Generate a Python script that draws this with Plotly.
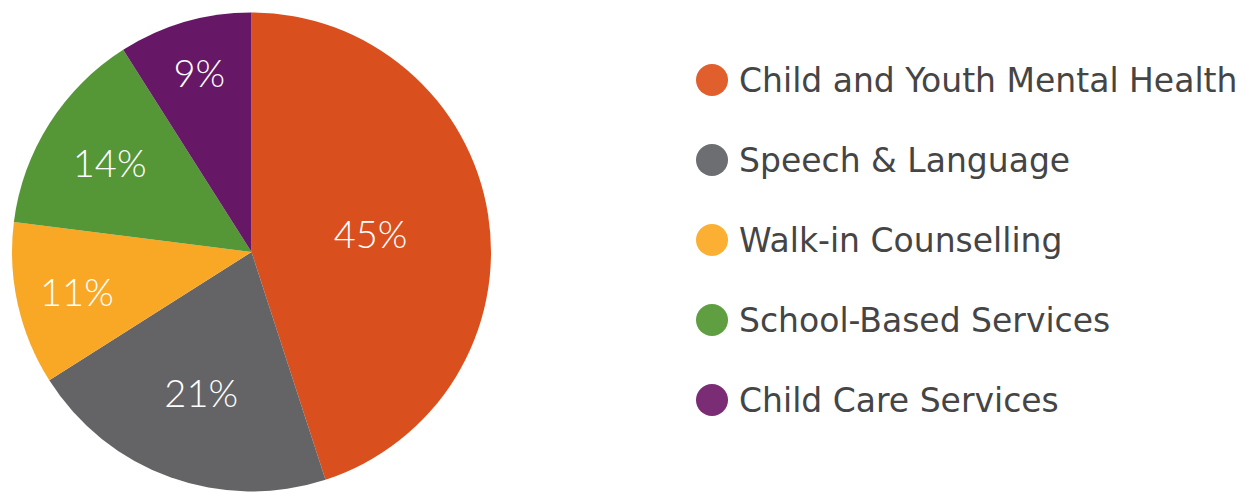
import plotly.graph_objects as go

# Share of clients by program
programs = [
    "Child and Youth Mental Health",
    "Speech & Language",
    "Walk-in Counselling",
    "School-Based Services",
    "Child Care Services",
]
shares = [45, 21, 11, 14, 9]

slice_colors = ["#D9501E", "#646466", "#F9A825", "#559637", "#661866"]
key_colors = ["#E05F2C", "#6D6E71", "#FBB034", "#5F9F41", "#7A2D74"]

W, H = 1247, 492

fig = go.Figure()

fig.add_trace(go.Pie(
    labels=programs,
    values=shares,
    sort=False,
    direction="clockwise",
    rotation=0,
    marker=dict(colors=slice_colors, line=dict(width=0)),
    texttemplate="%{value}%",
    textposition="inside",
    insidetextorientation="horizontal",
    insidetextfont=dict(family="Lato", size=38, color="white", weight=300),
    domain=dict(x=[12 / W, 491 / W], y=[0, 480 / H]),
    showlegend=False,
    hoverinfo="label+percent",
))

# Key on the right: one dot per program, rows top to bottom
rows = list(range(len(programs)))
fig.add_trace(go.Scatter(
    x=[0] * len(programs),
    y=rows,
    mode="markers",
    marker=dict(size=32, color=key_colors, symbol="circle", line=dict(width=0)),
    cliponaxis=False,
    showlegend=False,
    hoverinfo="skip",
))

for i, name in enumerate(programs):
    fig.add_annotation(
        x=0, y=rows[i], xref="x", yref="y",
        text=name, showarrow=False,
        xanchor="left", yanchor="middle", xshift=25,
        font=dict(family="DejaVu Sans", size=33, color="#454545"),
    )

fig.update_xaxes(range=[-712, W - 712], domain=[0, 1], visible=False, fixedrange=True)
fig.update_yaxes(range=[5.15, -1], domain=[0, 1], visible=False, fixedrange=True)

fig.update_layout(
    width=W, height=H,
    margin=dict(l=0, r=0, t=0, b=0),
    paper_bgcolor="white",
    plot_bgcolor="white",
)

fig.write_html("out.html")
